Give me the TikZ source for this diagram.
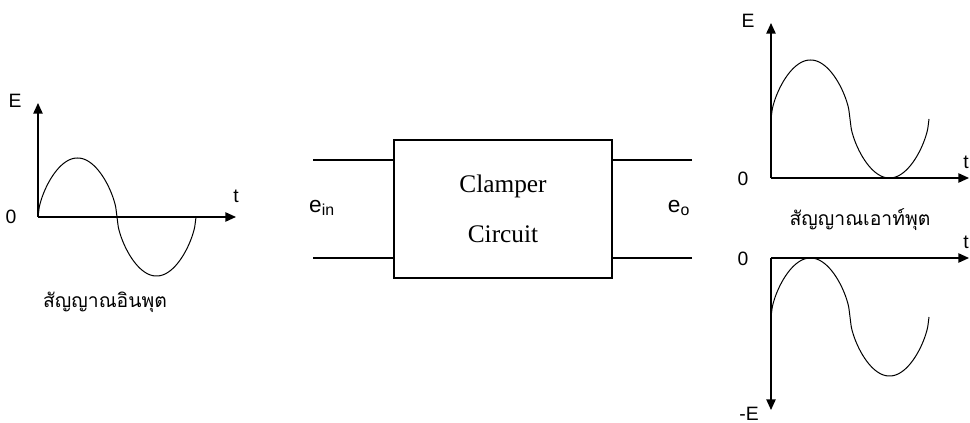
\documentclass[tikz,border=0pt]{standalone}
\usepackage{fontspec}
\setmainfont{Liberation Serif}
\newfontfamily\arialfont{Liberation Sans}
\newfontfamily\thaifont[Script=Thai]{Loma}
\usetikzlibrary{arrows.meta,positioning}

% rounded sine: flat tops, steep crossings
\newcommand{\wavey}[1]{sign(sin(#1))*abs(sin(#1))^0.6}

\begin{document}
\begin{tikzpicture}[x=0.75pt,y=0.75pt,yscale=-1,
	axis/.style={line width=1.1pt,-{Triangle[length=8pt,width=7pt]}},
	wave/.style={line width=0.75pt,smooth},
	lead/.style={line width=1pt},
	lbl/.style={font=\arialfont\fontsize{14.5}{16}\selectfont,inner sep=0pt},
	thaitxt/.style={font=\thaifont\fontsize{14.5}{17}\selectfont,inner sep=0pt},
	blockbox/.style={draw,line width=1pt,minimum width=163.5pt,minimum height=103.5pt,
		align=center,font=\fontsize{19}{37}\selectfont}]
	\useasboundingbox (0,0) rectangle (970,423);
	
	%Input signal
	\coordinate (oIn) at (38,217);
	\coordinate (yIn) at (38,103);
	\coordinate (tIn) at (236,217);
	\draw [axis] (oIn) -- (yIn);
	\draw [axis] (oIn) -- (tIn);
	\draw [wave] plot [domain=0:360,samples=121] ({38+\x/360*158},{217-59*\wavey{\x}});
	\node [lbl] (eIn) at (15,101) {E};
	\node [lbl] (zeroIn) at (11,217) {0};
	\node [lbl] (tLblIn) at (236,196) {t};
	\node [thaitxt] (txtIn) at (105,302) {สัญญาณอินพุต};
	
	%Clamper block
	\node [blockbox] (clamper) at (503,209) {Clamper\\Circuit};
	\coordinate (inTop) at (313,160);
	\coordinate (inBot) at (313,258);
	\coordinate (outTop) at (692,160);
	\coordinate (outBot) at (692,258);
	\draw [lead] (inTop) -- (inTop -| clamper.west);
	\draw [lead] (inBot) -- (inBot -| clamper.west);
	\draw [lead] (outTop) -- (outTop -| clamper.east);
	\draw [lead] (outBot) -- (outBot -| clamper.east);
	\node [font=\arialfont\fontsize{17}{20}\selectfont,inner sep=0pt] (ein) at (322,208) {e\textsubscript{in}};
	\node [font=\arialfont\fontsize{17}{20}\selectfont,inner sep=0pt] (eo) at (679,208) {e\textsubscript{o}};
	
	%Output signal, positive clamp
	\coordinate (oPos) at (771,178);
	\coordinate (yPos) at (771,23);
	\coordinate (tPos) at (969,178);
	\draw [axis] (oPos) -- (yPos);
	\draw [axis] (oPos) -- (tPos);
	\draw [wave] plot [domain=0:360,samples=121] ({771+\x/360*158},{119-59*\wavey{\x}});
	\node [lbl] (ePos) at (748,21) {E};
	\node [lbl] (zeroPos) at (743,179) {0};
	\node [lbl] (tLblPos) at (966,162) {t};
	\node [thaitxt] (txtOut) at (860,220) {สัญญาณเอาท์พุต};
	
	%Output signal, negative clamp
	\coordinate (oNeg) at (771,258);
	\coordinate (yNeg) at (771,410);
	\coordinate (tNeg) at (969,258);
	\draw [axis] (oNeg) -- (yNeg);
	\draw [axis] (oNeg) -- (tNeg);
	\draw [wave] plot [domain=0:360,samples=121] ({771+\x/360*158},{317-59*\wavey{\x}});
	\node [lbl] (eNeg) at (749,414) {-E};
	\node [lbl] (zeroNeg) at (743,259) {0};
	\node [lbl] (tLblNeg) at (966,242) {t};
	
\end{tikzpicture}
\end{document}
